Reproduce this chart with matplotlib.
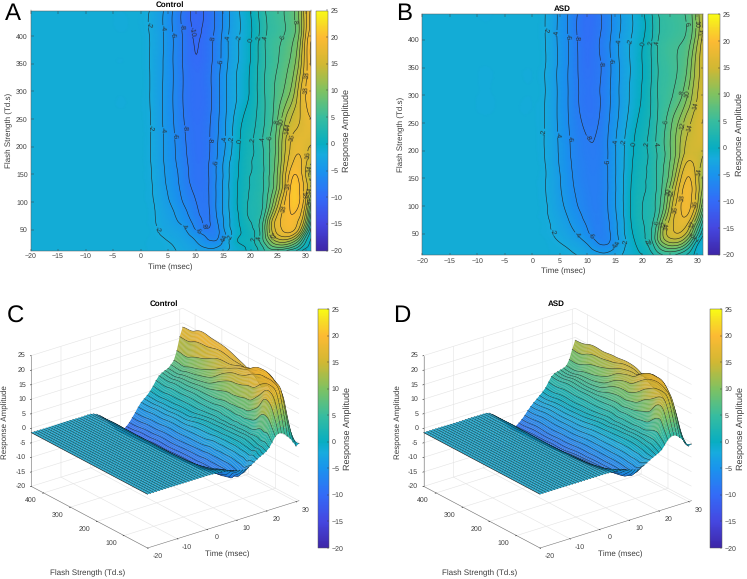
import numpy as np
import matplotlib
matplotlib.use("Agg")
import matplotlib.pyplot as plt
from matplotlib.colors import LinearSegmentedColormap, Normalize
from matplotlib.cm import ScalarMappable
from matplotlib.tri import Triangulation, CubicTriInterpolator
from mpl_toolkits.mplot3d import proj3d

plt.rcParams['font.family'] = ['Liberation Sans', 'DejaVu Sans']
plt.rcParams['text.hinting'] = 'no_hinting'
plt.rcParams['text.hinting_factor'] = 1

W, H = 747, 579
TEXT = '#3c3c3c'
AXIS = '#5a5a5a'

TIME_MS = [-20, 0, 2, 4, 6, 8, 10, 12, 13, 14, 15, 16, 18, 20, 22, 23, 24, 25, 26, 27, 28, 29, 30, 31]
FLASH_TD = [12.4, 20, 30, 40, 50, 65, 80, 100, 125, 150, 175, 200, 250, 300, 350, 400, 446]

# flat prestimulus stretch of every trace
PRE_TIMES = [-12, -6, -2]
BASELINE = -1.5

# one row per flash strength, one column per time
CONTROL = [
    [-1.5,-1.5,-1.6,-1.7,-1.9,-2.4,-2.9,-3.4,-3.4,-3.1,-2.6,-1.9,-0.6,0.5,3.0,4.6,5.3,5.2,4.6,3.5,2.4,0.8,-0.9,-0.3],
    [-1.5,-1.5,-1.6,-1.7,-2.0,-2.7,-3.4,-4.4,-4.6,-4.2,-3.3,-2.2,-0.5,0.8,3.6,6.0,8.0,8.8,8.8,7.8,6.0,3.5,0.8,-0.5],
    [-1.5,-1.5,-1.6,-1.8,-2.3,-3.0,-4.0,-5.6,-6.0,-5.7,-4.0,-2.2,0.3,1.2,5.0,8.0,11.0,12.8,13.3,12.5,10.5,7.0,2.5,-0.3],
    [-1.5,-1.5,-1.6,-2.1,-2.7,-3.4,-4.8,-6.4,-7.2,-6.4,-4.8,-3.0,-0.1,1.2,5.0,9.5,13.5,15.8,16.8,16.8,15.0,11.0,5.0,0.5],
    [-1.5,-1.5,-1.6,-2.4,-3.0,-3.8,-6.0,-7.7,-7.6,-6.5,-4.5,-2.6,-0.2,1.5,5.2,10.0,14.5,17.0,18.3,18.8,18.0,14.7,8.5,1.5],
    [-1.5,-1.5,-1.7,-2.6,-3.5,-4.9,-6.8,-8.3,-7.6,-6.0,-4.2,-2.4,0.1,2.0,5.0,9.5,14.5,17.3,18.7,19.5,19.0,17.0,12.0,4.0],
    [-1.5,-1.5,-1.7,-2.8,-3.9,-5.5,-7.4,-8.4,-7.4,-5.6,-3.9,-2.2,0.3,2.3,4.0,7.5,12.0,16.0,18.5,19.8,20.0,18.5,14.0,6.0],
    [-1.5,-1.5,-1.8,-3.1,-4.5,-6.3,-7.9,-8.4,-7.2,-5.5,-3.8,-2.1,0.5,2.3,3.6,6.0,9.5,13.5,17.3,19.8,21.0,19.8,16.0,9.0],
    [-1.5,-1.5,-1.9,-3.4,-5.0,-6.9,-8.5,-8.4,-7.2,-5.5,-3.8,-2.1,0.4,2.1,3.4,5.3,7.6,11.0,15.0,19.2,21.0,19.8,17.0,13.8],
    [-1.5,-1.5,-2.0,-3.6,-5.3,-7.2,-8.9,-8.4,-7.2,-5.6,-4.0,-2.2,0.2,2.0,3.4,5.2,7.3,10.5,14.5,18.0,20.0,18.9,16.0,12.5],
    [-1.5,-1.5,-2.1,-3.8,-5.6,-7.5,-9.0,-8.5,-7.3,-5.8,-4.1,-2.4,0.1,1.9,3.4,5.2,7.0,9.8,13.5,16.4,18.2,18.3,16.6,14.6],
    [-1.5,-1.5,-2.1,-3.8,-5.7,-7.7,-9.1,-8.6,-7.5,-6.0,-4.6,-3.0,-0.1,1.7,3.5,5.3,6.8,9.5,13.0,15.6,17.2,17.5,16.6,15.8],
    [-1.5,-1.5,-2.1,-4.0,-6.0,-8.1,-9.3,-8.7,-7.7,-6.4,-4.8,-3.3,-0.6,1.1,3.2,4.5,5.9,8.2,11.0,13.4,14.9,16.0,17.2,18.0],
    [-1.5,-1.5,-2.2,-4.0,-6.1,-8.3,-9.5,-8.9,-7.9,-6.6,-5.0,-3.5,-1.6,0.3,3.2,4.5,5.6,6.8,8.0,9.6,12.0,15.5,18.0,19.5],
    [-1.5,-1.5,-2.2,-3.9,-6.1,-8.4,-9.8,-9.0,-8.0,-6.8,-5.3,-3.8,-1.8,0.1,3.0,4.3,5.2,6.0,6.9,8.0,9.7,13.0,17.0,20.1],
    [-1.5,-1.5,-2.2,-3.8,-6.1,-8.5,-10.2,-9.2,-8.3,-7.0,-5.6,-4.0,-2.0,-0.2,2.8,4.2,4.9,5.4,6.0,6.8,8.0,11.0,16.0,19.4],
    [-1.5,-1.5,-2.2,-3.8,-6.2,-8.7,-10.6,-9.6,-8.6,-7.2,-5.8,-4.2,-2.0,0.0,3.0,4.3,5.0,5.5,5.9,6.8,8.0,11.0,15.5,18.5],
]

ASD = [
    [-1.5,-1.5,-1.5,-1.6,-1.7,-2.0,-2.6,-3.3,-3.5,-3.2,-2.8,-2.2,-1.0,0.0,2.0,3.4,4.2,4.4,4.0,3.0,2.0,0.6,-0.9,-0.5],
    [-1.5,-1.5,-1.5,-1.6,-1.8,-2.3,-3.2,-4.4,-4.7,-4.3,-3.5,-2.6,-0.9,0.5,3.0,5.0,6.3,6.8,6.5,5.5,3.7,1.5,-0.8,-1.0],
    [-1.5,-1.5,-1.5,-1.7,-2.1,-2.8,-3.9,-5.7,-6.0,-5.6,-4.4,-3.1,-0.8,1.0,4.0,7.0,9.3,10.5,10.5,9.5,7.0,3.5,0.0,-1.5],
    [-1.5,-1.5,-1.5,-1.9,-2.5,-3.4,-4.8,-6.6,-7.0,-6.2,-4.9,-3.4,-0.6,1.5,5.0,9.0,12.0,13.5,13.8,13.0,10.5,6.5,2.0,-1.0],
    [-1.5,-1.5,-1.6,-2.1,-2.9,-4.0,-5.6,-7.3,-7.1,-6.2,-4.8,-3.2,-0.3,1.6,5.0,9.0,13.0,15.0,15.8,15.5,13.5,9.5,4.5,0.5],
    [-1.5,-1.5,-1.6,-2.3,-3.3,-4.7,-6.2,-7.5,-7.0,-6.0,-4.6,-3.1,0.0,1.8,4.5,8.0,12.5,15.0,16.5,16.9,16.0,12.5,7.5,2.5],
    [-1.5,-1.5,-1.7,-2.5,-3.7,-5.2,-6.7,-7.5,-6.9,-5.8,-4.4,-3.0,0.2,2.0,3.8,6.5,10.5,14.0,16.5,17.7,17.8,15.5,11.0,5.0],
    [-1.5,-1.5,-1.7,-2.8,-4.2,-5.8,-7.1,-7.5,-6.8,-5.6,-4.2,-2.8,0.3,2.0,3.5,5.5,8.5,12.5,16.0,18.0,18.8,17.5,14.0,8.5],
    [-1.5,-1.5,-1.8,-3.0,-4.6,-6.2,-7.3,-7.5,-6.8,-5.6,-4.2,-2.8,0.2,1.8,3.3,5.0,7.5,11.0,14.5,17.5,18.8,18.0,15.0,11.0],
    [-1.5,-1.5,-1.8,-3.1,-4.8,-6.5,-7.5,-7.5,-6.8,-5.6,-4.2,-2.8,0.0,1.7,3.2,4.8,6.6,9.0,12.5,16.0,18.0,17.5,14.8,11.8],
    [-1.5,-1.5,-1.8,-3.3,-5.0,-6.7,-7.6,-7.6,-6.8,-5.6,-4.2,-2.9,-0.2,1.5,3.2,4.7,6.2,8.2,10.8,14.0,16.3,16.3,15.0,13.2],
    [-1.5,-1.5,-1.9,-3.4,-5.2,-6.9,-7.8,-7.7,-6.9,-5.6,-4.2,-2.9,-0.4,1.3,3.2,4.6,5.9,7.8,10.0,12.5,14.5,15.0,15.0,14.6],
    [-1.5,-1.5,-1.9,-3.5,-5.4,-7.3,-8.4,-8.0,-7.1,-5.9,-4.6,-3.4,-1.0,0.8,3.0,4.5,5.7,7.3,9.2,11.0,13.0,14.3,15.5,16.0],
    [-1.5,-1.5,-1.8,-3.5,-5.5,-7.6,-8.8,-8.2,-7.4,-6.2,-4.9,-3.7,-1.6,0.2,2.8,4.3,5.0,5.6,6.5,7.7,9.6,12.0,14.0,15.6],
    [-1.5,-1.5,-1.8,-3.5,-5.5,-7.7,-9.1,-8.3,-7.6,-6.4,-5.0,-3.8,-1.8,0.0,2.6,4.2,4.8,5.3,5.8,6.5,7.8,10.5,13.2,15.2],
    [-1.5,-1.5,-1.8,-3.5,-5.5,-7.8,-9.3,-8.2,-7.3,-6.2,-4.9,-3.7,-1.9,-0.2,2.5,4.2,4.8,5.2,5.5,5.8,6.5,8.5,11.7,14.8],
    [-1.5,-1.5,-1.8,-3.5,-5.5,-7.8,-9.5,-8.4,-7.5,-6.4,-5.1,-4.0,-2.1,-0.3,2.5,4.1,4.8,5.1,5.4,5.7,6.2,8.0,11.2,14.0],
]

CONTOUR_LEVELS = list(range(-20, 26, 2))
COLORBAR_TICKS = list(range(-20, 26, 5))
TIME_TICKS_2D = list(range(-20, 31, 5))
FLASH_TICKS_2D = [50, 100, 150, 200, 250, 300, 350, 400]
TIME_TICKS_3D = [-20, -10, 0, 10, 20, 30]
FLASH_TICKS_3D = [100, 200, 300, 400]
Z_TICKS_3D = list(range(-20, 26, 5))

# parula-style colour ramp
parula = LinearSegmentedColormap.from_list('parula_like', [
    (0.000, (0.2422, 0.1504, 0.6603)),
    (0.111, (0.2700, 0.2800, 0.8800)),
    (0.222, (0.2000, 0.4200, 0.9700)),
    (0.333, (0.1000, 0.5800, 0.9300)),
    (0.400, (0.0900, 0.6700, 0.8700)),
    (0.444, (0.0300, 0.6800, 0.7600)),
    (0.556, (0.2200, 0.7400, 0.6200)),
    (0.667, (0.5000, 0.7600, 0.3800)),
    (0.778, (0.8200, 0.7200, 0.2000)),
    (0.889, (0.9900, 0.7300, 0.2000)),
    (0.956, (0.9700, 0.8800, 0.1400)),
    (1.000, (0.9769, 0.9839, 0.0805)),
], N=256)
norm = Normalize(-20, 25)


def rect(x0, y0, x1, y1):
    return [x0 / W, 1 - y1 / H, (x1 - x0) / W, (y1 - y0) / H]


def label(x, y, s, **kw):
    kw.setdefault('ha', 'center')
    kw.setdefault('va', 'center')
    kw.setdefault('color', TEXT)
    fig.text(x / W, 1 - y / H, s, **kw)


def resample(table, n_time, n_flash):
    """Smooth the read-off table onto a regular mesh with matplotlib's cubic interpolator."""
    values = np.insert(np.asarray(table, float), [1] * len(PRE_TIMES), BASELINE, axis=1)
    times = np.insert(np.asarray(TIME_MS, float), [1] * len(PRE_TIMES), PRE_TIMES)
    tt, ff = np.meshgrid(times, FLASH_TD)
    tri = Triangulation(tt.ravel(), ff.ravel())
    interp = CubicTriInterpolator(tri, values.ravel(), kind='min_E')
    eps = 1e-6
    t = np.linspace(TIME_MS[0] + eps, TIME_MS[-1] - eps, n_time)
    f = np.linspace(FLASH_TD[0] + eps, FLASH_TD[-1] - eps, n_flash)
    T, F = np.meshgrid(t, f)
    return T, F, np.ma.filled(interp(T, F), BASELINE)


def colorbar(cax_box, ly):
    cax = fig.add_axes(rect(*cax_box))
    cb = fig.colorbar(ScalarMappable(norm=norm, cmap=parula), cax=cax, ticks=COLORBAR_TICKS)
    cb.ax.tick_params(labelsize=5.2, length=1.5, width=0.35, direction='in', colors=TEXT, pad=2)
    cb.outline.set_linewidth(0.35)
    cb.outline.set_edgecolor(AXIS)
    label(ly[0], ly[1], 'Response Amplitude', rotation=90, fontsize=6.3)


def contour_panel(table, box, cbar_box, cbar_label, title, letter, label_points, xl, yl):
    ax = fig.add_axes(rect(*box))
    T, F, Z = resample(table, 260, 200)
    ax.pcolormesh(T, F, Z, cmap=parula, norm=norm, shading='gouraud', rasterized=True)
    cs = ax.contour(T, F, Z, levels=CONTOUR_LEVELS, colors='#222222', linewidths=0.4, linestyles='solid')
    labels = ax.clabel(cs, manual=label_points, fmt='%d', fontsize=5.4, inline=True, inline_spacing=0)
    for t in labels:
        t.set_color('#2c2c2c')
    ax.set_xlim(-20, 31)
    ax.set_ylim(FLASH_TD[0], FLASH_TD[-1])
    ax.set_xticks(TIME_TICKS_2D)
    ax.set_yticks(FLASH_TICKS_2D)
    ax.tick_params(direction='in', top=True, right=True, length=1.8, width=0.35,
                   labelsize=5.2, colors=TEXT, pad=2)
    for s in ax.spines.values():
        s.set_linewidth(0.35)
        s.set_edgecolor(AXIS)
    colorbar(cbar_box, cbar_label)
    label(xl[0], xl[1], 'Time (msec)', fontsize=5.5)
    label(yl[0], yl[1], 'Flash Strength (Td.s)', rotation=90, fontsize=5.5)
    label(title[0], title[1], title[2], fontsize=5.5, fontweight='bold', color='black')
    label(letter[0], letter[1], letter[2], fontsize=17.5, color='black')
    return ax


def surface_panel(table, front, right, left, cbar_box, cbar_label, title, letter, tl, fl, zl):
    ax = fig.add_axes(rect(left[0], right[1] - 200, right[0], front[1]),
                      projection='3d', proj_type='ortho', computed_zorder=False)
    T, F, Z = resample(table, 52, 110)
    ax.view_init(elev=24, azim=-127.5)
    ax.set_box_aspect((1, 1, 0.75))

    # strips between time traces are painted from the latest to the earliest, so ridges
    # hide what lies behind them; each trace gets a dark line under the next nearer strip
    order = 1
    n_cols = T.shape[1]
    for j in range(n_cols - 2, -1, -1):
        ax.plot(T[:, j + 1], F[:, j + 1], Z[:, j + 1], color='#151515', linewidth=0.55, alpha=0.8, zorder=order)
        order += 1
        ax.plot_surface(T[:, j:j + 2], F[:, j:j + 2], Z[:, j:j + 2], cmap=parula, norm=norm, rstride=1, cstride=1,
                        shade=False, edgecolor=(0, 0, 0, 0.15), linewidth=0.18, zorder=order)
        order += 1
    ax.plot(T[:, 0], F[:, 0], Z[:, 0], color='#151515', linewidth=0.5, alpha=0.85, zorder=order)

    ax.set_xlim(-20, 31, view_margin=0)
    ax.set_ylim(FLASH_TD[0], FLASH_TD[-1], view_margin=0)
    ax.set_zlim(-20, 25, view_margin=0)
    ax.set_xticks(TIME_TICKS_3D)
    ax.set_yticks(FLASH_TICKS_3D)
    ax.set_zticks(Z_TICKS_3D)
    ax.set_xticklabels([])
    ax.set_yticklabels([])
    ax.set_zticklabels([])
    for a in (ax.xaxis, ax.yaxis, ax.zaxis):
        a.set_pane_color((1, 1, 1, 0))
        a.pane.set_edgecolor('#dddddd')
        a.line.set_color('#777777')
        a.line.set_linewidth(0.4)
        a._axinfo['grid'].update(color='#e3e3e3', linewidth=0.4)
        a._axinfo['tick'].update(inward_factor=0.08, outward_factor=0.0, linewidth={True: 0.35, False: 0.3})
    ax.patch.set_alpha(0)

    def to_px(p):
        xs, ys, _z = proj3d.proj_transform(p[0], p[1], p[2], ax.get_proj())
        d = ax.transData.transform((xs, ys))
        return d[0], H - d[1]

    # place the axes so the box corners land where this panel's layout wants them
    y0, z0 = FLASH_TD[0], -20
    for _ in range(4):
        ax.apply_aspect()
        fp, rp, lp = to_px((-20, y0, z0)), to_px((31, y0, z0)), to_px((-20, FLASH_TD[-1], z0))
        scale = (right[0] - left[0]) / (rp[0] - lp[0])
        bb = ax.get_position()
        cx = bb.x0 * W + bb.width * W / 2
        cy = H - (bb.y0 * H + bb.height * H / 2)
        nx = front[0] - (fp[0] - cx) * scale
        ny = front[1] - (fp[1] - cy) * scale
        side = bb.width * W * scale
        ax.set_position(rect(nx - side / 2, ny - side / 2, nx + side / 2, ny + side / 2))
    ax.apply_aspect()

    # tick labels sit at a fixed pixel offset from their tick on the box edge
    for v in TIME_TICKS_3D:
        px, py = to_px((v, y0, z0))
        label(px + 10, py + 8, str(v), fontsize=5.2)
    for v in FLASH_TICKS_3D:
        px, py = to_px((-20, v, z0))
        label(px - 13, py + 7.5, str(v), fontsize=5.2)
    for v in Z_TICKS_3D:
        px, py = to_px((-20, FLASH_TD[-1], v))
        label(px - 5.5, py, str(v), fontsize=5.2, ha='right')

    colorbar(cbar_box, cbar_label)
    label(tl[0], tl[1], 'Time (msec)', fontsize=5.5)
    label(fl[0], fl[1], 'Flash Strength (Td.s)', fontsize=5.5)
    label(zl[0], zl[1], 'Response Amplitude', rotation=90, fontsize=5.5)
    label(title[0], title[1], title[2], fontsize=5.5, fontweight='bold', color='black')
    label(letter[0], letter[1], letter[2], fontsize=17.5, color='black')
    return ax


fig = plt.figure(figsize=(W / 100, H / 100), dpi=100, facecolor='white')

LABELS_A = [(1.7, 420), (4.3, 414), (5.9, 402), (7.4, 416), (9.9, 408), (13.2, 395), (14.5, 354), (16, 397),
            (18, 397), (20.1, 392), (21.5, 396), (22.8, 397), (26, 397), (28.2, 425), (30.7, 330), (30.3, 302),
            (2, 233), (4.6, 230), (6.5, 219), (8.1, 233), (12.5, 212), (13.9, 171), (15.2, 214), (16.3, 214),
            (17.9, 210), (20.4, 212), (22.4, 213), (23.7, 216), (24.9, 245), (25.8, 245), (26.5, 236), (27.2, 227),
            (28, 215), (30.2, 185), (30.6, 160), (30.7, 138), (30.8, 120), (30.8, 100), (27, 128), (29.3, 112),
            (25.9, 88), (3.3, 52), (7.9, 55), (11.2, 55), (10.2, 43), (15, 31), (15.6, 33), (16.7, 34),
            (19.8, 34), (21.3, 36), (23.8, 38)]

LABELS_B = [(2.2, 418), (4.6, 412), (6.4, 405), (8.2, 403), (12.6, 357), (14.2, 362), (15.7, 397), (17.9, 397),
            (20.2, 392), (21.6, 394), (22.8, 394), (27.7, 429), (27.2, 304), (28.3, 303), (29.9, 428), (30.8, 415),
            (30.5, 279), (24.5, 251), (27.9, 243), (29, 240), (2.5, 234), (5.1, 229), (7.2, 222), (10, 222),
            (15.2, 216), (16.6, 216), (18.3, 213), (20.7, 213), (22.7, 213), (13.7, 179), (30.5, 162), (27.2, 114),
            (26, 93), (29.3, 105), (24.6, 126), (25, 125), (22.7, 70), (24, 67), (24.6, 63), (4, 54), (8.5, 52),
            (10.5, 44), (14.6, 30), (15.8, 32), (16.9, 35), (20.1, 35), (20.8, 35), (29.3, 65), (29, 48), (30.2, 39)]

contour_panel(CONTROL, (30.5, 10.5, 311, 250.5), (316, 10.5, 327.5, 250.5), (347, 130),
              (170, 5, 'Control'), (13, 14, 'A'), LABELS_A, (170, 267), (9.5, 130))
contour_panel(ASD, (422.3, 14.3, 703, 254.7), (708.3, 14.3, 720, 254.7), (740, 134),
              (562.5, 8.5, 'ASD'), (404, 14, 'B'), LABELS_B, (563, 271), (401.5, 134))

surface_panel(CONTROL, (147.5, 548), (296.7, 500.7), (29, 485.7), (317.7, 309, 328.5, 548), (348, 428),
              (163.5, 303.5, 'Control'), (15, 317, 'C'), (227.5, 554), (87.5, 573), (5.5, 422))
surface_panel(ASD, (540, 548), (690, 500.7), (422.3, 485.7), (710.3, 309, 722, 548), (741, 428),
              (556.5, 303.5, 'ASD'), (402, 316, 'D'), (620.5, 554), (480, 573), (398.5, 422))

fig.savefig('out.png', dpi=100)
